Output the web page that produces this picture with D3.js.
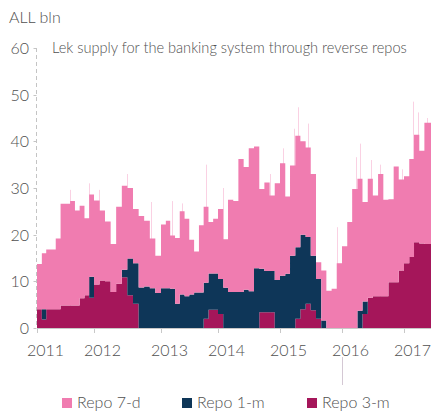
<!DOCTYPE html>
<html>
<head>
<meta charset="utf-8">
<script src="https://cdn.jsdelivr.net/npm/d3@7"></script>
<style>
  html, body { margin: 0; padding: 0; background: #fff; overflow: hidden; }
  svg { display: block; }
  text { font-family: Lato, "Open Sans", sans-serif; font-weight: 300; fill: #505050; }
</style>
</head>
<body>
<div id="chart"></div>
<script>
// monthly observations, Jan 2011 .. May 2017 (ALL bln)
const startMonth = new Date(2011, 0, 1);

const repo3m = [
  4, 1.8, 4, 4, 4, 4.8, 4.8, 4.8, 4.8, 6.4, 7, 6.5,
  9.3, 10.2, 10, 7.7, 9.5, 10.9, 7, 5.2, 0, 0, 0, 0,
  0, 0, 0, 0, 0, 0, 0, 0, 0, 2, 3.9, 3.9,
  3, 0, 0, 0, 0, 0, 0, 0, 3.4, 3.4, 3.4, 0,
  0, 0, 0, 2, 4, 5.2, 3.8, 2, 0, 0, 0, 0,
  0, 0, 0, 0, 3, 6.5, 6.8, 6.8, 6.8, 9.8, 9.8, 12.3,
  13.9, 15.2, 18.4, 18.1, 18
];

const repo1m = [
  0, 2.2, 0, 0, 0, 0, 0, 0, 0, 0, 0, 4.5,
  0, 0, 0, 0, 0, 1.6, 7.9, 8.7, 8.7, 8.9, 8.5, 7.5,
  8.5, 8.5, 8.4, 5.2, 7.2, 6.8, 7.2, 7.6, 7.6, 7.7, 7.8, 7.8,
  7.5, 8.6, 7.7, 7.7, 7.7, 8.2, 7.9, 12.8, 9.3, 8.8, 8.8, 10.3,
  11.2, 11.6, 15.5, 15.3, 16, 14.3, 11.7, 8.5, 1.6, 0, 0, 0,
  0, 0, 0, 3.7, 2.7, 0, 0, 0, 0, 0, 0, 0,
  0, 0, 0, 0, 0
];

const repo7d = [
  9.7, 12, 12.8, 12.8, 15.2, 21.8, 21.8, 22.4, 20.4, 19.8, 16.5, 17.6,
  18, 15, 12.8, 10.3, 16.5, 18, 15.1, 11.6, 15.3, 14.1, 10.7, 8,
  13.7, 14.5, 11.4, 14.1, 17.8, 16.6, 11.7, 8.8, 14.4, 16.3, 11, 11.7,
  15, 10.4, 19.8, 19.5, 28.5, 26.3, 30.6, 26.1, 17.1, 19, 16.2, 20.7,
  24.1, 16.6, 19.3, 23.9, 20, 19.2, 17.5, 3.6, 10.7, 8, 8.4, 13.9,
  17.5, 22.7, 29.8, 28.3, 21.3, 25.5, 21.6, 26.2, 20.7, 17.8, 24.8, 19.5,
  18.6, 21, 23, 19.9, 26
];

// single-day peaks of total supply (thin lines above the monthly steps)
const peakDates = [
  "2011-08-03", "2011-12-01", "2012-01-29", "2012-06-30", "2012-11-10",
  "2013-03-10", "2013-05-15", "2013-10-16", "2014-01-30", "2014-11-02",
  "2015-01-18", "2015-03-24", "2015-04-18", "2015-06-14", "2015-12-01",
  "2016-03-24", "2016-04-19", "2016-06-20", "2016-08-11", "2016-12-19",
  "2017-02-23", "2017-03-24", "2017-05-16"
];
const peakValues = [
  29.6, 31, 29.6, 33, 27,
  27.2, 26.7, 35, 30, 33,
  38.5, 42.7, 47.3, 43.8, 21.6,
  36.6, 39.5, 36, 35, 34,
  48.5, 46.2, 45
];

const years = [2011, 2012, 2013, 2014, 2015, 2016, 2017];
const yTicks = [0, 10, 20, 30, 40, 50, 60];

const seriesNames = ["Repo 7-d", "Repo 1-m", "Repo 3-m"];
const colors = { repo7d: "#f07cb0", repo1m: "#0e3658", repo3m: "#a5165a" };

const width = 431;
const height = 412;
const margin = { top: 48, left: 37, bottom: 84 };
const innerHeight = height - margin.top - margin.bottom;

const months = d3.timeMonth.range(startMonth, d3.timeMonth.offset(startMonth, repo7d.length));
const data = months.map((m, i) => ({
  date: m,
  repo3m: repo3m[i],
  repo1m: repo1m[i],
  repo7d: repo7d[i]
}));

const svg = d3.select("#chart")
  .append("svg")
  .attr("width", width)
  .attr("height", height);

// category-style year spacing of the original axis
const x = d3.scaleTime()
  .domain(years.concat([2018]).map((yr) => new Date(yr, 0, 1)))
  .range([37, 94, 161, 218, 280, 342, 404, 466]);

const y = d3.scaleLinear()
  .domain([0, 60])
  .range([margin.top + innerHeight, margin.top]);

// extend last step to the edge of the picture
const last = data[data.length - 1];
data.push(Object.assign({}, last, { date: x.invert(width + 2) }));

const keys = ["repo3m", "repo1m", "repo7d"];
const series = d3.stack().keys(keys)(data);

const area = d3.area()
  .x((d) => x(d.data.date))
  .y0((d) => y(d[0]))
  .y1((d) => y(d[1]))
  .curve(d3.curveStepAfter);

// peaks drawn first, the areas cover their lower part
const parseDay = d3.timeParse("%Y-%m-%d");
svg.append("g")
  .selectAll("line")
  .data(peakDates.map((d, i) => ({ date: parseDay(d), value: peakValues[i] })))
  .enter()
  .append("line")
  .attr("x1", (d) => Math.round(x(d.date)) + 0.5)
  .attr("x2", (d) => Math.round(x(d.date)) + 0.5)
  .attr("y1", y(0))
  .attr("y2", (d) => y(d.value))
  .attr("stroke", colors.repo7d)
  .attr("stroke-opacity", 0.35);

svg.append("g")
  .selectAll("path")
  .data(series)
  .enter()
  .append("path")
  .attr("fill", (d) => colors[d.key])
  .attr("d", area);

// x axis
const xAxis = svg.append("g")
  .attr("transform", "translate(0," + y(0) + ")");

xAxis.append("line")
  .attr("x1", x(new Date(2011, 0, 1)))
  .attr("x2", width)
  .attr("y1", 0.5)
  .attr("y2", 0.5)
  .attr("stroke", "#c8c8c8");

years.forEach((yr) => {
  const px = Math.round(x(new Date(yr, 0, 1))) + 0.5;
  xAxis.append("line")
    .attr("x1", px).attr("x2", px)
    .attr("y1", 0).attr("y2", 5)
    .attr("stroke", "#c8c8c8");
  xAxis.append("text")
    .attr("x", px + 8)
    .attr("y", 28)
    .attr("text-anchor", "middle")
    .style("font-size", "16px")
    .text(yr);
});

// stray marker line under 2016
const px16 = Math.round(x(new Date(2016, 0, 1))) + 0.5;
svg.append("line")
  .attr("x1", px16).attr("x2", px16)
  .attr("y1", 357).attr("y2", 385)
  .attr("stroke", "#d4c8d4");

// y axis (dashed)
const ax = margin.left - 0.5;
svg.append("line")
  .attr("x1", ax).attr("x2", ax)
  .attr("y1", y(60)).attr("y2", y(0))
  .attr("stroke", "#c4c4c4")
  .attr("stroke-dasharray", "4,3");

yTicks.forEach((t) => {
  svg.append("line")
    .attr("x1", ax - 3).attr("x2", ax)
    .attr("y1", Math.round(y(t)) + 0.5).attr("y2", Math.round(y(t)) + 0.5)
    .attr("stroke", "#c4c4c4");
  svg.append("text")
    .attr("x", 29)
    .attr("y", y(t) + 6)
    .attr("text-anchor", "end")
    .style("font-size", "16px")
    .text(t);
});

svg.append("text")
  .attr("x", 9)
  .attr("y", 23)
  .style("font-size", "16px")
  .text("ALL bln");

const title = svg.append("text")
  .attr("x", 52)
  .attr("y", 53)
  .style("font-size", "14px")
  .text("Lek supply for the banking system through reverse repos");
const tl = title.node().getComputedTextLength();
title.style("font-size", (14 * 355 / tl).toFixed(2) + "px");

// legend
const legendX = [62, 182, 307];
const legendKeys = ["repo7d", "repo1m", "repo3m"];
legendKeys.forEach((k, i) => {
  const row = svg.append("g")
    .attr("transform", "translate(" + legendX[i] + ",398)");
  row.append("rect")
    .attr("width", 10)
    .attr("height", 10)
    .attr("fill", colors[k]);
  row.append("text")
    .attr("x", 15)
    .attr("y", 10)
    .style("font-size", "16px")
    .text(seriesNames[i]);
});
</script>
</body>
</html>
